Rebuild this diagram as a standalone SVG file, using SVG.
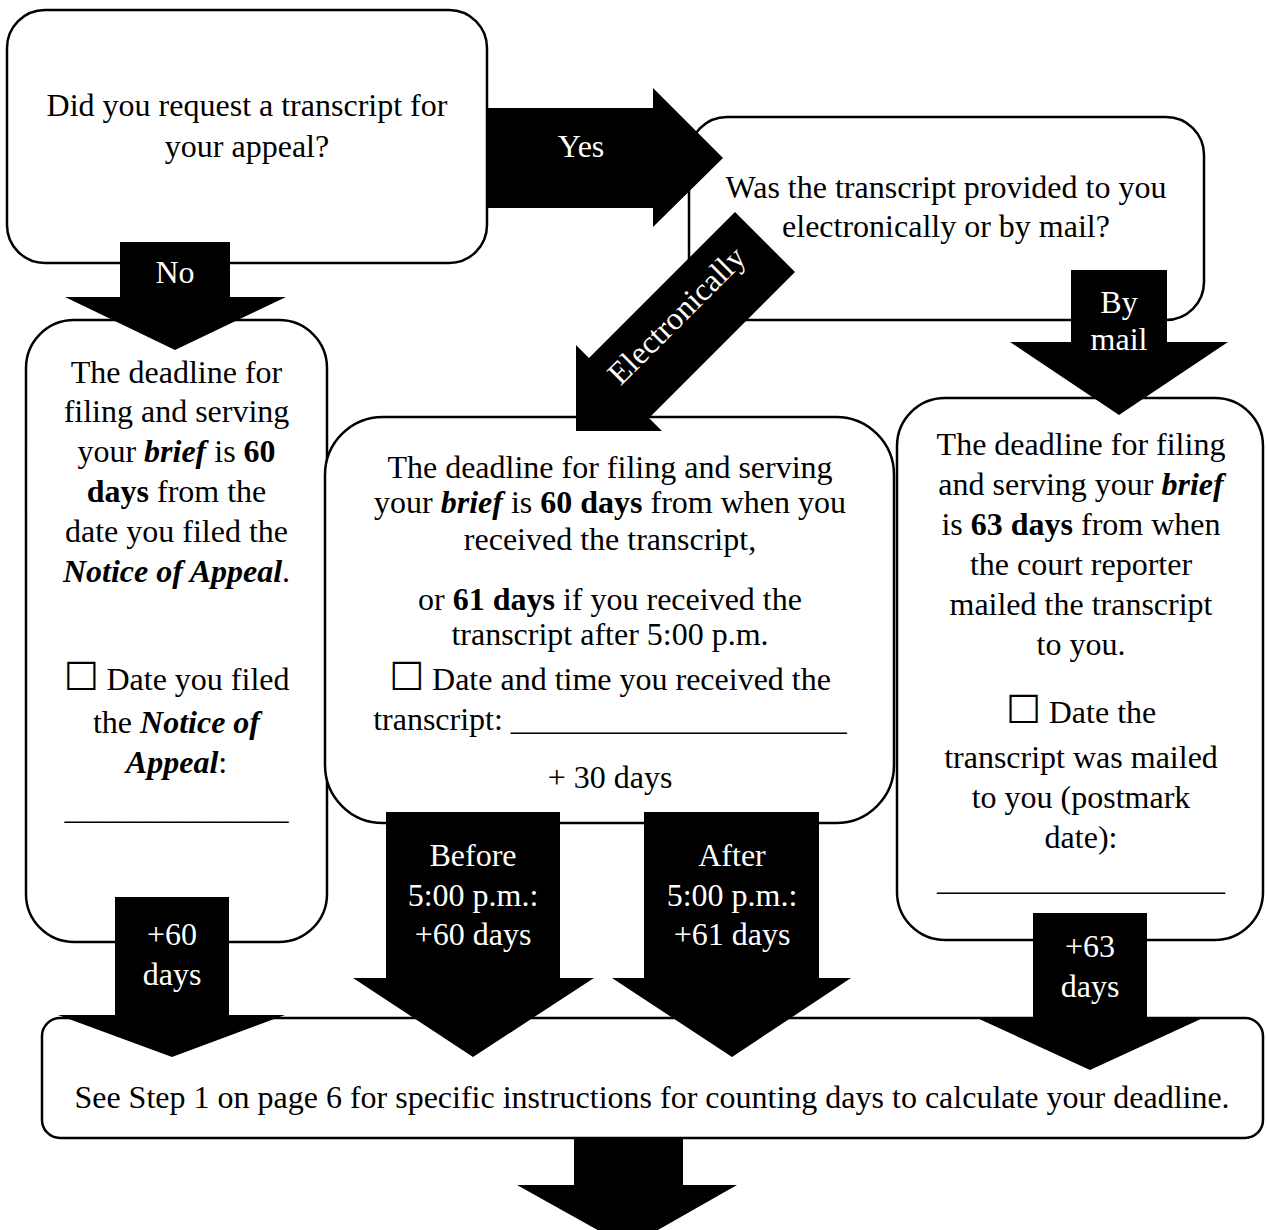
<svg xmlns="http://www.w3.org/2000/svg" width="1267" height="1230" viewBox="0 0 1267 1230">
<style>
.box{fill:#fff;stroke:#000;stroke-width:2.5}
.arr{fill:#000;stroke:none}
text{font-family:"Liberation Serif","Times New Roman",serif;font-size:32px;text-anchor:middle;fill:#000}
.w{fill:#fff}
.b{font-weight:bold}
.bi{font-weight:bold;font-style:italic}
.cb{font-family:"DejaVu Sans",sans-serif;font-size:39px}
</style>
<rect width="1267" height="1230" fill="#fff"/>
<g id="q1">
<rect class="box" x="7" y="10" width="480" height="253" rx="38"/>
<text x="247" y="116">Did you request a transcript for</text>
<text x="247" y="157">your appeal?</text>
</g>
<g id="q2">
<rect class="box" x="689" y="117" width="515" height="203" rx="38"/>
<text x="946" y="198">Was the transcript provided to you</text>
<text x="946" y="237">electronically or by mail?</text>
</g>
<g id="no-transcript">
<rect class="box" x="26" y="320" width="301" height="622" rx="48"/>
<text x="176.5" y="383">The deadline for</text>
<text x="176.5" y="422">filing and serving</text>
<text x="176.5" y="462">your <tspan class="bi">brief</tspan> is <tspan class="b">60</tspan></text>
<text x="176.5" y="502"><tspan class="b">days</tspan> from the</text>
<text x="176.5" y="542">date you filed the</text>
<text x="176.5" y="582"><tspan class="bi">Notice of Appeal</tspan>.</text>
<text x="176.5" y="690"><tspan class="cb">☐</tspan> Date you filed</text>
<text x="176.5" y="733">the <tspan class="bi">Notice of</tspan></text>
<text x="176.5" y="773"><tspan class="bi">Appeal</tspan>:</text>
<text x="176.5" y="819">______________</text>
</g>
<g id="electronic">
<rect class="box" x="325" y="417" width="569" height="406" rx="58"/>
<text x="610" y="478">The deadline for filing and serving</text>
<text x="610" y="513">your <tspan class="bi">brief</tspan> is <tspan class="b">60 days</tspan> from when you</text>
<text x="610" y="550">received the transcript,</text>
<text x="610" y="610">or <tspan class="b">61 days</tspan> if you received the</text>
<text x="610" y="645">transcript after 5:00 p.m.</text>
<text x="610" y="690"><tspan class="cb">☐</tspan> Date and time you received the</text>
<text x="610" y="730">transcript: _____________________</text>
<text x="610" y="788">+ 30 days</text>
</g>
<g id="by-mail">
<rect class="box" x="897" y="398" width="366" height="542" rx="48"/>
<text x="1081" y="455">The deadline for filing</text>
<text x="1081" y="495">and serving your <tspan class="bi">brief</tspan></text>
<text x="1081" y="535">is <tspan class="b">63 days</tspan> from when</text>
<text x="1081" y="575">the court reporter</text>
<text x="1081" y="615">mailed the transcript</text>
<text x="1081" y="655">to you.</text>
<text x="1081" y="723"><tspan class="cb">☐</tspan> Date the</text>
<text x="1081" y="768">transcript was mailed</text>
<text x="1081" y="808">to you (postmark</text>
<text x="1081" y="848">date):</text>
<text x="1081" y="890">__________________</text>
</g>
<g id="count-days">
<rect class="box" x="42" y="1018" width="1221" height="120" rx="18"/>
<text x="652" y="1108">See Step 1 on page 6 for specific instructions for counting days to calculate your deadline.</text>
</g>
<g id="connectors">
<g id="a-yes">
<polygon class="arr" points="487,108 653,108 653,88 723,158 653,227 653,208 487,208"/>
<text class="w" x="581" y="157">Yes</text>
</g>
<g id="a-no">
<polygon class="arr" points="120,242 230,242 230,297 286,297 175,350 65,297 120,297"/>
<text class="w" x="175" y="283">No</text>
</g>
<g id="a-elec">
<polygon class="arr" points="735,212 795,272 649,418 662,431 576,431 576,345 589,358"/>
<text class="w" x="684" y="323" transform="rotate(-45 684 323)">Electronically</text>
</g>
<g id="a-mail">
<polygon class="arr" points="1071,270 1167,270 1167,342 1228,342 1119,415 1010,342 1071,342"/>
<text class="w" x="1119" y="313">By</text>
<text class="w" x="1119" y="350">mail</text>
</g>
<g id="a-60">
<polygon class="arr" points="115,897 229,897 229,1015 285,1015 172,1057 58,1015 115,1015"/>
<text class="w" x="172" y="945">+60</text>
<text class="w" x="172" y="985">days</text>
</g>
<g id="a-before">
<polygon class="arr" points="386,812 560,812 560,978 594,978 473,1057 353,978 386,978"/>
<text class="w" x="473" y="866">Before</text>
<text class="w" x="473" y="906">5:00 p.m.:</text>
<text class="w" x="473" y="945">+60 days</text>
</g>
<g id="a-after">
<polygon class="arr" points="644,812 819,812 819,978 851,978 732,1057 612,978 644,978"/>
<text class="w" x="732" y="866">After</text>
<text class="w" x="732" y="906">5:00 p.m.:</text>
<text class="w" x="732" y="945">+61 days</text>
</g>
<g id="a-63">
<polygon class="arr" points="1033,913 1147,913 1147,1018 1203,1018 1090,1070 977,1018 1033,1018"/>
<text class="w" x="1090" y="957">+63</text>
<text class="w" x="1090" y="997">days</text>
</g>
<g id="a-next">
<polygon class="arr" points="574,1138 683,1138 683,1185 737,1185 628,1247 517,1185 574,1185"/>
</g>
</g>
</svg>
